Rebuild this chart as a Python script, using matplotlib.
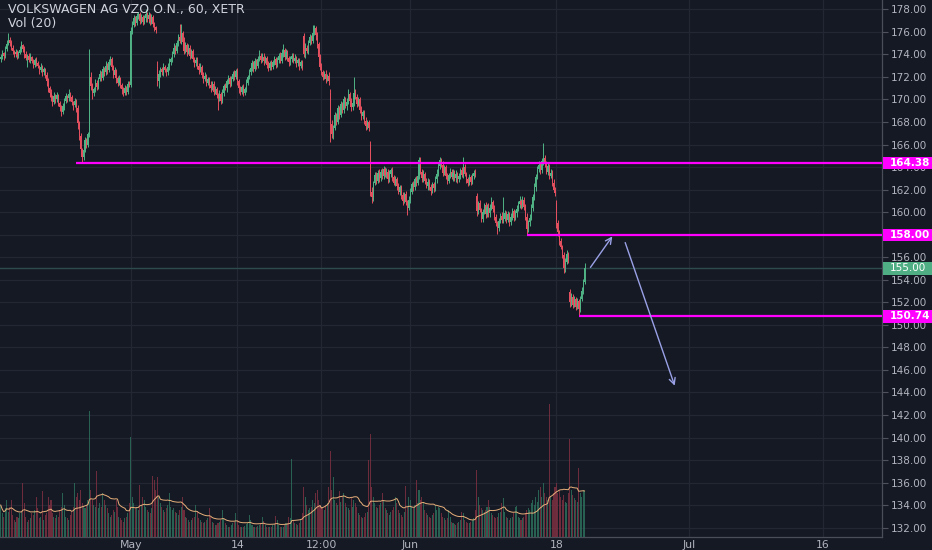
import matplotlib
matplotlib.use("Agg")
import matplotlib.pyplot as plt
import matplotlib.transforms as mtrans
from matplotlib.patches import Rectangle
import numpy as np
import pandas as pd

title = "VOLKSWAGEN AG VZO O.N., 60, XETR"
vol_title = "Vol (20)"

# hourly closes (XETRA, 9 bars per day), oldest first
close = [
    173.8, 174.1, 173.9, 174.5, 174.9, 175.3, 175.0,
    174.6, 174.3, 174.0, 174.2, 173.9, 174.1, 174.4, 174.8, 174.5,
    174.0, 173.7, 173.9, 173.5, 173.8, 173.4, 173.1, 173.5, 173.2,
    173.0, 172.6, 172.9, 172.4, 172.7, 172.2, 171.6, 171.0, 170.6,
    170.2, 169.8, 170.3, 170.0, 170.4, 169.7, 169.3, 168.9, 169.4,
    169.9, 170.3, 170.1, 170.5, 170.2, 169.8, 169.5, 169.9, 169.2,
    167.9, 166.8, 165.6, 164.9, 165.5, 166.4, 166.0, 166.9, 172.0,
    171.2, 170.6, 170.9, 171.5, 171.1, 171.8, 172.3, 171.9, 172.7,
    172.4, 173.0, 172.6, 173.3, 173.6, 172.9, 172.2, 172.6, 171.9,
    171.5, 171.9, 171.3, 170.9, 170.6, 171.0, 170.7, 171.4, 171.3,
    176.1, 176.6, 177.2, 176.8, 177.4, 177.6, 177.0, 177.3, 176.9,
    177.2, 177.6, 177.1, 177.5, 176.9, 177.3, 176.7, 176.4, 176.2,
    171.6, 172.3, 172.7, 172.4, 172.9, 172.6, 172.4, 172.9, 173.3,
    173.6, 174.0, 174.6, 174.3, 175.0, 175.5, 175.2, 175.9, 175.1,
    174.3, 174.8, 174.2, 174.6, 173.9, 174.3, 173.6, 173.2, 173.5,
    173.0, 172.6, 172.9, 172.2, 171.8, 172.1, 171.5, 171.8, 171.3,
    171.0, 171.4, 170.7, 170.9, 170.4, 170.1, 170.5, 169.9, 170.6,
    171.2, 171.0, 171.6, 171.9, 171.4, 171.8, 172.3, 172.0, 172.5,
    171.6, 171.0, 170.7, 171.1, 170.6, 170.9, 171.5, 172.0, 172.4,
    172.8, 173.2, 172.7, 173.4, 173.0, 173.6, 173.9, 173.5, 173.8,
    173.4, 173.7, 173.1, 172.8, 173.2, 172.9, 173.3, 173.6, 173.1,
    173.5, 173.9, 173.4, 174.1, 174.4, 173.8, 174.2, 173.7, 173.3,
    173.6, 173.9, 173.4, 173.7, 173.2, 173.5, 173.0, 173.3, 172.9,
    174.0, 174.6, 174.3, 175.0, 175.5, 175.2, 175.9, 176.3, 175.7,
    174.9, 173.8, 172.9, 172.4, 172.0, 172.3, 171.8, 172.1, 171.6,
    167.8, 166.9, 167.5, 168.6, 168.0, 169.2, 168.6, 169.6, 169.1,
    170.0, 169.4, 169.8, 170.5, 169.9, 169.3, 169.7, 170.6, 170.2,
    169.6, 170.0, 169.1, 168.5, 168.9, 168.1, 167.6, 168.0, 167.5,
    161.8, 161.3, 162.6, 163.3, 162.8, 163.5, 163.0, 163.6, 163.2,
    163.8, 163.3, 163.6, 162.9, 163.4, 163.7, 163.1, 162.6, 162.9,
    162.3, 161.8, 162.2, 161.5, 161.0, 161.6, 160.9, 160.4, 161.1,
    161.8, 162.5, 162.2, 162.9, 162.6, 163.2, 164.6, 163.6, 163.0,
    163.4, 162.8, 162.3, 162.7, 162.2, 161.9, 162.5, 162.1, 162.9,
    163.4, 164.1, 164.6, 164.2, 163.5, 164.0, 163.2, 162.8, 163.3,
    163.6, 163.1, 163.5, 163.0, 163.4, 162.9, 163.2, 163.7, 163.3,
    164.0, 163.4, 162.9, 162.6, 163.1, 162.7, 163.2, 163.5, 163.3,
    160.1, 160.8, 160.2, 159.4, 160.0, 160.6, 159.8, 160.5, 159.9,
    160.4, 160.9, 160.3, 159.6, 159.0, 158.6, 159.2, 159.7, 159.3,
    159.4, 159.9, 159.3, 159.8, 159.1, 159.6, 160.1, 159.5, 159.9,
    160.3, 160.7, 161.0, 160.6, 161.1, 160.5, 159.6, 158.5, 159.1,
    159.5, 160.4, 161.3, 162.2, 163.1, 163.8, 164.2, 163.7, 164.5,
    164.8, 164.3, 163.6, 164.1, 163.2, 163.5, 162.6, 162.0, 161.7,
    159.0, 158.2, 157.4, 156.9, 156.2, 155.0, 155.6, 156.3, 155.8,
    152.0, 152.5, 151.8, 152.3, 151.6, 152.1, 151.4, 152.3, 153.0,
    153.8, 155.0,
]
first_open = 173.6
# opens that differ from the previous close (overnight gaps)
gap_open = {106: 172.9, 205: 175.6, 223: 170.6, 250: 166.0, 322: 161.4,
            376: 160.8, 385: 152.9}

# wick lengths in tenths of a euro
wick_up = [
    2, 3, 1, 2, 4, 6, 2,
    3, 2, 1, 3, 2, 2, 3, 4, 1,
    2, 3, 1, 2, 3, 1, 2, 2, 3,
    2, 1, 3, 2, 2, 1, 2, 3, 2,
    3, 2, 4, 2, 3, 1, 2, 2, 3,
    2, 3, 1, 4, 2, 2, 1, 2, 1,
    3, 2, 2, 1, 2, 3, 2, 2, 0,
    4, 3, 2, 3, 2, 2, 3, 2, 3,
    2, 4, 2, 3, 3, 2, 2, 3, 1,
    2, 3, 1, 2, 2, 3, 2, 2, 2,
    3, 4, 3, 2, 3, 2, 2, 3, 2,
    3, 4, 2, 3, 2, 3, 2, 2, 1,
    5, 3, 2, 2, 3, 2, 2, 3, 4,
    2, 3, 4, 2, 3, 3, 2, 8, 2,
    4, 3, 2, 3, 2, 2, 2, 2, 3,
    3, 2, 3, 2, 2, 3, 2, 2, 2,
    3, 2, 2, 3, 2, 2, 3, 2, 3,
    2, 3, 2, 3, 2, 3, 2, 3, 2,
    3, 2, 2, 2, 3, 2, 3, 2, 3,
    2, 3, 2, 3, 2, 3, 5, 2, 3,
    3, 2, 2, 3, 2, 3, 2, 3, 2,
    3, 2, 3, 4, 5, 2, 3, 2, 2,
    3, 2, 2, 3, 2, 2, 2, 2, 2,
    3, 4, 2, 3, 3, 2, 3, 3, 2,
    3, 2, 2, 3, 2, 2, 3, 2, 3,
    3, 4, 2, 3, 2, 3, 2, 3, 2,
    3, 2, 3, 4, 2, 2, 3, 0, 3,
    3, 2, 2, 3, 2, 2, 3, 2, 2,
    3, 4, 2, 3, 3, 2, 3, 2, 3,
    3, 2, 3, 2, 3, 2, 3, 2, 3,
    2, 3, 2, 2, 3, 2, 3, 2, 3,
    3, 2, 3, 2, 3, 2, 0, 3, 2,
    3, 2, 2, 3, 2, 3, 2, 2, 3,
    4, 3, 3, 2, 3, 2, 2, 3, 2,
    3, 2, 3, 2, 3, 2, 3, 2, 3,
    0, 3, 2, 2, 3, 2, 3, 2, 3,
    3, 2, 3, 2, 3, 2, 3, 2, 3,
    3, 4, 2, 3, 2, 2, 3, 2, 3,
    0, 3, 2, 3, 2, 3, 3, 2, 3,
    3, 3, 4, 2, 3, 2, 2, 3, 2,
    3, 3, 3, 4, 3, 3, 3, 2, 3,
    0, 3, 2, 3, 2, 3, 2, 3, 2,
    3, 3, 2, 3, 2, 3, 3, 3, 2,
    3, 3, 2, 3, 2, 3, 2, 3, 4,
    3, 0,
]
wick_dn = [
    3, 2, 4, 2, 2, 1, 3,
    2, 3, 2, 2, 3, 2, 1, 2, 3,
    3, 2, 8, 2, 3, 2, 3, 2, 2,
    2, 3, 2, 3, 2, 3, 4, 3, 4,
    3, 4, 2, 3, 2, 3, 3, 4, 2,
    3, 2, 3, 2, 3, 3, 4, 2, 3,
    5, 4, 3, 0, 3, 2, 3, 2, 2,
    4, 6, 3, 2, 3, 2, 2, 3, 2,
    3, 2, 3, 2, 2, 3, 3, 2, 4,
    3, 2, 3, 4, 3, 2, 3, 2, 2,
    2, 3, 2, 3, 2, 3, 3, 2, 3,
    2, 3, 2, 3, 3, 2, 3, 3, 3,
    4, 0, 3, 2, 3, 2, 3, 2, 3,
    2, 3, 2, 3, 2, 3, 2, 3, 4,
    3, 2, 3, 2, 3, 2, 3, 3, 2,
    3, 3, 2, 3, 3, 2, 3, 2, 3,
    3, 2, 3, 2, 3, 0, 2, 3, 2,
    3, 2, 3, 2, 3, 2, 2, 3, 2,
    3, 4, 3, 2, 3, 2, 2, 2, 2,
    2, 3, 3, 2, 3, 2, 2, 3, 2,
    3, 2, 3, 3, 2, 3, 2, 2, 3,
    2, 3, 2, 2, 3, 3, 2, 3, 3,
    2, 3, 2, 2, 3, 2, 4, 2, 3,
    2, 3, 2, 3, 2, 3, 2, 2, 4,
    3, 4, 3, 2, 3, 2, 3, 2, 3,
    0, 3, 4, 2, 3, 2, 3, 2, 3,
    3, 2, 3, 2, 3, 3, 2, 3, 2,
    3, 2, 3, 3, 2, 3, 3, 2, 3,
    4, 0, 3, 2, 3, 2, 3, 2, 3,
    3, 2, 3, 3, 2, 3, 3, 2, 3,
    3, 2, 3, 3, 4, 2, 3, 0, 2,
    3, 2, 3, 2, 3, 2, 3, 2, 3,
    3, 3, 2, 3, 2, 4, 2, 3, 2,
    3, 2, 3, 2, 3, 2, 3, 3, 2,
    3, 2, 3, 2, 3, 3, 2, 3, 2,
    3, 2, 3, 3, 2, 3, 2, 3, 2,
    4, 3, 2, 3, 3, 2, 3, 2, 3,
    3, 2, 3, 3, 2, 0, 3, 2, 3,
    3, 2, 3, 2, 3, 2, 3, 3, 2,
    3, 2, 3, 3, 2, 3, 3, 0, 3,
    3, 2, 3, 2, 3, 2, 2, 3, 2,
    3, 3, 2, 3, 3, 2, 3, 2, 3,
    4, 3, 3, 2, 3, 0, 3, 2, 3,
    4, 3, 3, 2, 3, 2, 0, 3, 2,
    3, 2,
]
high_fix = {60: 174.5, 121: 176.7, 211: 176.6, 239: 172.0, 283: 164.9,
            313: 164.9, 340: 161.3, 367: 166.1, 395: 155.5}
low_fix = {55: 164.4, 107: 171.0, 147: 169.1, 223: 166.2, 251: 160.8,
           275: 159.75, 336: 158.1, 356: 158.0, 381: 154.6, 391: 150.74}

# volume, thousand shares
volume = [
    95, 70, 60, 85, 110, 75, 90,
    110, 65, 50, 45, 60, 55, 70, 75, 160,
    100, 60, 45, 50, 55, 70, 65, 80, 120,
    85, 55, 60, 138, 50, 65, 70, 120, 95,
    110, 70, 60, 55, 65, 60, 80, 90, 130,
    95, 60, 55, 50, 65, 75, 90, 160, 120,
    130, 110, 140, 100, 90, 85, 95, 110, 378,
    140, 110, 95, 90, 198, 85, 100, 90, 130,
    110, 95, 85, 70, 60, 65, 80, 75, 110,
    90, 60, 55, 50, 45, 55, 60, 70, 100,
    300, 120, 100, 85, 90, 80, 156, 95, 120,
    110, 90, 80, 75, 70, 85, 183, 170, 140,
    180, 120, 100, 90, 80, 75, 85, 95, 130,
    90, 80, 85, 75, 70, 65, 80, 90, 120,
    80, 60, 55, 50, 45, 50, 55, 60, 95,
    75, 55, 50, 45, 40, 45, 50, 55, 85,
    60, 45, 40, 35, 35, 40, 45, 50, 80,
    55, 40, 35, 30, 30, 35, 40, 45, 70,
    50, 35, 30, 28, 30, 32, 38, 40, 65,
    50, 35, 30, 28, 30, 32, 36, 40, 60,
    48, 35, 30, 28, 28, 30, 35, 38, 62,
    50, 36, 30, 28, 30, 34, 40, 42, 60,
    55, 234, 50, 40, 38, 35, 42, 50, 70,
    150, 120, 95, 80, 85, 90, 110, 100, 130,
    140, 110, 95, 90, 85, 80, 95, 100, 150,
    258, 140, 180, 110, 100, 95, 137, 105, 120,
    130, 100, 90, 85, 80, 117, 90, 110, 100,
    90, 70, 65, 60, 55, 60, 70, 75, 231,
    309, 150, 120, 100, 90, 85, 95, 100, 130,
    110, 85, 80, 70, 65, 75, 80, 90, 120,
    100, 80, 70, 65, 60, 75, 153, 90, 120,
    110, 90, 85, 95, 171, 100, 140, 110, 120,
    100, 80, 70, 65, 60, 55, 65, 70, 95,
    80, 90, 85, 70, 60, 55, 50, 55, 80,
    60, 45, 40, 38, 35, 40, 45, 50, 75,
    70, 50, 45, 40, 40, 45, 50, 55, 80,
    201, 120, 95, 85, 80, 75, 80, 90, 110,
    90, 70, 65, 60, 55, 60, 70, 75, 100,
    117, 75, 60, 55, 50, 55, 60, 70, 90,
    92, 60, 55, 50, 55, 60, 70, 80, 85,
    80, 100, 110, 95, 120, 105, 140, 150, 120,
    160, 130, 120, 110, 399, 120, 110, 130, 150,
    160, 130, 140, 120, 110, 125, 105, 100, 130,
    294, 140, 125, 115, 110, 105, 207, 130, 120,
    140, 137,
]

# horizontal levels drawn on the chart
levels = [164.38, 158.00, 150.74]
level_start = [51, 356, 391]
last_price = 155.00

# projected path arrows (bar index, price)
arrow_paths = [((399.0, 155.1), (413.8, 157.85)),
               ((422.5, 157.3), (456.0, 144.6))]

# time axis labels at bar positions
xtick_pos = [88, 160, 217, 277, 376, 466, 556]
xtick_lab = ["May", "14", "12:00", "Jun", "18", "Jul", "16"]
ytick_vals = list(range(132, 179, 2))

# ---------------------------------------------------------------
BG = "#151924"
GRID = "#232733"
TXT = "#b2b5be"
UP = "#4fb386"
DOWN = "#e4505f"
MAG = "#ff00ff"

c = np.array(close)
n = len(c)
o = np.empty(n)
o[0] = first_open
o[1:] = c[:-1]
for k, v in gap_open.items():
    o[k] = v
hi = np.maximum(o, c) + np.array(wick_up) / 10.0
lo = np.minimum(o, c) - np.array(wick_dn) / 10.0
for k, v in high_fix.items():
    hi[k] = v
for k, v in low_fix.items():
    lo[k] = v
x = np.arange(n)
up = c >= o
cols = np.where(up, UP, DOWN)

fig = plt.figure(figsize=(9.32, 5.5), dpi=100, facecolor=BG)
rect = [0.0, 13.3 / 550, 882 / 932, 1 - 13.3 / 550]
ax = fig.add_axes(rect)
ax.set_facecolor(BG)
vax = fig.add_axes(rect, sharex=ax)
vax.patch.set_alpha(0)
vax.set_zorder(ax.get_zorder() + 1)

X_LO, X_HI = -0.5, 596.25
ax.set_xlim(X_LO, X_HI)
ax.set_ylim(131.20, 178.825)

# grid and ticks (tick label hidden behind a level box is left blank)
ax.set_yticks(ytick_vals)
ax.set_yticklabels(["" if any(abs(v - lv) < 0.3 for lv in levels)
                    else f"{v:.2f}" for v in ytick_vals])
ax.set_xticks(xtick_pos)
ax.set_xticklabels(xtick_lab)
ax.grid(True, color=GRID, lw=0.9, zorder=0)
ax.set_axisbelow(True)
ax.yaxis.tick_right()
ax.tick_params(axis="y", colors="#50535e", labelcolor=TXT, labelsize=7.5,
               length=4, width=0.8, pad=2.5)
ax.tick_params(axis="x", colors="#50535e", labelcolor=TXT, labelsize=7.8,
               length=0, pad=2.2)
for s in ["top", "left"]:
    ax.spines[s].set_visible(False)
for s in ["right", "bottom"]:
    ax.spines[s].set_color("#4a4e59")
    ax.spines[s].set_linewidth(0.9)

# candles
ax.vlines(x, lo, hi, colors=cols, lw=0.7, zorder=3)
body = np.maximum(np.abs(c - o), 0.05)
ax.bar(x, body, bottom=np.minimum(o, c), width=0.72, color=cols, lw=0,
       zorder=4)

# last price line
ax.axhline(last_price, color="#2f4a4c", lw=1.0, zorder=2)

# levels
btrans = mtrans.blended_transform_factory(ax.transAxes, ax.transData)
for lv, st in zip(levels, level_start):
    ax.hlines(lv, st, X_HI, colors=MAG, lw=1.6, zorder=5)
    ax.add_patch(Rectangle((1.001, lv - 0.54), 50 / 882, 1.08,
                           transform=btrans, clip_on=False, fc=MAG,
                           ec="none", zorder=6))
    ax.text(1.0 + 8 / 882, lv, f"{lv:.2f}", transform=btrans, ha="left",
            va="center", color="white", fontsize=7.5, fontweight="bold",
            zorder=7, clip_on=False)
ax.add_patch(Rectangle((1.001, last_price - 0.54), 50 / 882, 1.08,
                       transform=btrans, clip_on=False, fc="#4fae84",
                       ec="none", zorder=6))
ax.text(1.0 + 8 / 882, last_price, f"{last_price:.2f}", transform=btrans,
        ha="left", va="center", color="white", fontsize=7.5, zorder=7,
        clip_on=False)

# arrows
for (p0, p1) in arrow_paths:
    ax.annotate("", xy=p1, xytext=p0,
                arrowprops=dict(arrowstyle="->", color="#9aa1e6", lw=1.0,
                                mutation_scale=11, shrinkA=0, shrinkB=0),
                zorder=6)

# volume
vol = np.array(volume, dtype=float)
vcols = np.where(up, "#2f7a62", "#8a3343")
vax.bar(x, vol, width=0.7, color=vcols, alpha=0.75, lw=0)
ma = pd.Series(vol).rolling(20, min_periods=1).mean()
vax.plot(x, ma, color="#e9b07a", lw=0.7)
vax.set_ylim(0, 1610)
vax.set_xlim(X_LO, X_HI)
vax.axis("off")

fig.text(8 / 932, 1 - 10 / 550, title, color="#d1d4dc", fontsize=9,
         ha="left", va="center")
fig.text(8 / 932, 1 - 24 / 550, vol_title, color="#d1d4dc", fontsize=9,
         ha="left", va="center")

fig.savefig("out.png", dpi=100, facecolor=BG)
